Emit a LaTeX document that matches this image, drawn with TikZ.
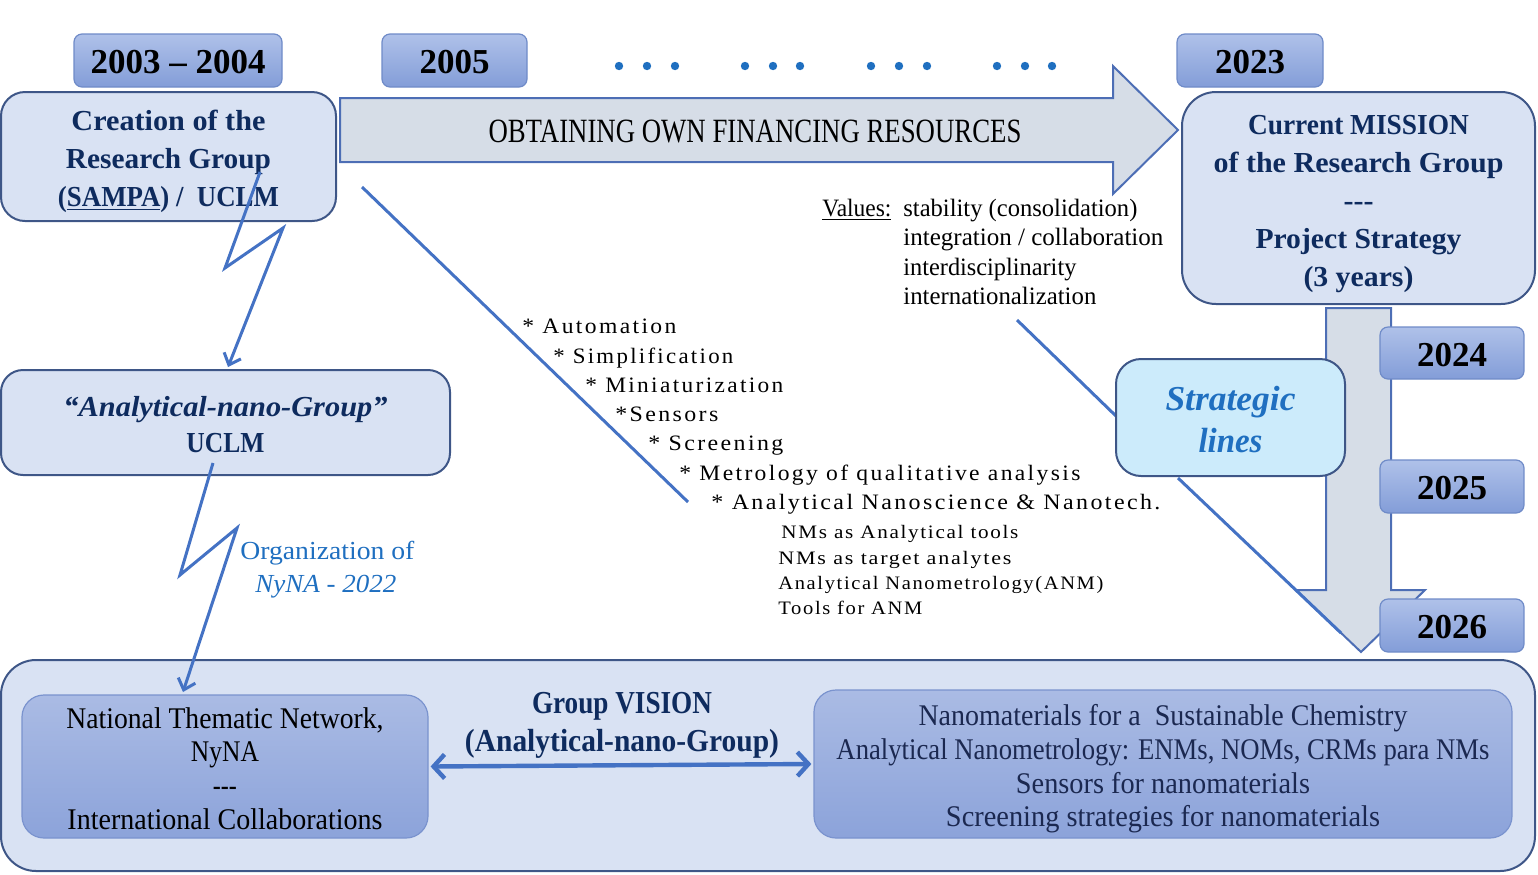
\documentclass[tikz,border=0pt]{standalone}
\usepackage{fontspec}
\setmainfont{Liberation Serif}
\usepackage{graphicx}
\usetikzlibrary{arrows.meta}
\newlength\pxu \setlength\pxu{0.5pt}
\newcommand\fw[2]{\resizebox{#1\pxu}{\height}{#2}}
\definecolor{tnavy}{HTML}{0E2B5E}
\definecolor{vnavy}{HTML}{1B2850}
\definecolor{ybd}{HTML}{6F8BC8}
\definecolor{yt}{HTML}{AFC1E9}
\definecolor{yb}{HTML}{839DD8}
\definecolor{lbf}{HTML}{D9E2F3}
\definecolor{lbd}{HTML}{3E5687}
\definecolor{sbf}{HTML}{CCEBFB}
\definecolor{ibd}{HTML}{7A93CE}
\definecolor{it}{HTML}{AABBE4}
\definecolor{ib}{HTML}{8CA3DA}
\definecolor{af}{HTML}{D6DDE7}
\definecolor{abd}{HTML}{4D6EB5}
\definecolor{lc}{HTML}{4472C4}
\definecolor{dotc}{HTML}{1F6FC0}
\begin{document}
\begin{tikzpicture}[x=0.5pt,y=-0.5pt,
  yearbox/.style={rounded corners=4pt, draw=ybd, line width=0.6pt, top color=yt, bottom color=yb,
    minimum height=26.5pt, inner sep=0pt, text height=13.4pt, text depth=0pt,
    font=\fontsize{17.5}{20}\selectfont\bfseries, text=black},
  lbox/.style={draw=lbd, fill=lbf, line width=1pt, inner sep=0pt},
  txt/.style={inner sep=0pt, align=center},
  bbold/.style={txt, text=tnavy, font=\fontsize{14.5}{19}\selectfont\bfseries},
  ibox/.style={draw=ibd, line width=0.6pt, top color=it, bottom color=ib, rounded corners=11pt, inner sep=0pt},
  itxt/.style={txt, font=\fontsize{15}{16.85}\selectfont},
  arrowshape/.style={draw=abd, fill=af, line width=1pt},
  conn/.style={draw=lc, line width=1.5pt},
  zig/.style={conn, -{Straight Barb[length=5pt,width=9pt]}},
  dbl/.style={draw=lc, line width=2.2pt, {Straight Barb[length=5.5pt,width=12pt]}-{Straight Barb[length=5.5pt,width=12pt]}},
  lst/.style={font=\fontsize{11}{13}\selectfont\addfontfeature{LetterSpace=10}, anchor=base west, inner sep=0pt},
  sublst/.style={font=\fontsize{9.5}{11}\selectfont\addfontfeature{LetterSpace=8}, anchor=base west, inner sep=0pt},
  val/.style={font=\fontsize{12.5}{14}\selectfont, anchor=base west, inner sep=0pt}
]
\useasboundingbox (0,0) rectangle (1538,874);

% bottom container
\node[lbox, rounded corners=17.5pt, minimum width=767pt, minimum height=105.5pt] (bottom) at (768,765.5) {};

% big right arrow
\draw[arrowshape] (340,98) -- (1113,98) -- (1113,66) -- (1178,130) -- (1113,194) -- (1113,162) -- (340,162) -- cycle;
\node[inner sep=0pt, font=\fontsize{17}{20}\selectfont] (obt) at (755,131) {\fw{533}{OBTAINING OWN FINANCING RESOURCES}};

% down arrow
\draw[arrowshape] (1326,308) -- (1391,308) -- (1391,590) -- (1425,590) -- (1361,652) -- (1296,590) -- (1326,590) -- cycle;

% diagonal lines
\coordinate (d1a) at (362,187);
\coordinate (d1b) at (688,502);
\draw[conn] (d1a) -- (d1b);
\coordinate (d2a) at (1017,320);
\coordinate (d3b) at (1341,633);

% dots
\foreach \x in {619,647,675,745,773,800,871,899,927,997,1025,1052}
  \fill[dotc] (\x,66) circle (2.1pt);

% year boxes
\node[yearbox, minimum width=104pt] (y0304) at (178,60.5) {2003 -- 2004};
\node[yearbox, minimum width=72.5pt] (y05) at (454.5,60.5) {2005};
\node[yearbox, minimum width=73pt] (y23) at (1250,60.5) {2023};

% main boxes
\node[lbox, rounded corners=12pt, minimum width=167.5pt, minimum height=64.5pt] (creation) at (168.5,156.5) {};
\node[bbold] (creationT) at (168.5,161.5)
  {\fw{194}{Creation of the}\\ \fw{205}{Research Group}\\ \fw{221}{(\underline{SAMPA}) /\ \ UCLM}};
\node[lbox, rounded corners=17pt, minimum width=176.5pt, minimum height=106pt] (mission) at (1358.5,198) {};
\node[bbold] (missionT) at (1358.5,204)
  {\fw{221}{Current MISSION}\\ \fw{290}{of the Research Group}\\ \fw{30}{-{}-{}-}\\ \fw{206}{Project Strategy}\\ \fw{110}{(3 years)}};
\node[lbox, rounded corners=11pt, minimum width=224.5pt, minimum height=52.5pt] (anano) at (225.5,422.5) {};
\node[txt, text=tnavy, font=\fontsize{14.5}{18}\selectfont\bfseries] (ananoT) at (225.5,424.5)
  {\fw{324}{\itshape “Analytical-nano-Group”}\\ \fw{78}{UCLM}};

% strategic lines
\coordinate (d2b) at (1116,416);
\draw[conn] (d2a) -- (d2b);
\node[lbox, fill=sbf, rounded corners=12.5pt, minimum width=114.5pt, minimum height=58.5pt] (strat) at (1230.5,417.5) {};
\node[txt, text=dotc, font=\fontsize{17.5}{21}\selectfont\bfseries\itshape] (stratT) at (1230.5,419.5)
  {\fw{130}{Strategic}\\ \fw{64}{lines}};
\coordinate (d3a) at (1178,478);
\draw[conn] (d3a) -- (d3b);

% right year boxes
\node[yearbox, minimum width=72pt, minimum height=26pt] (y24) at (1452,353) {2024};
\node[yearbox, minimum width=72pt] (y25) at (1452,486.5) {2025};
\node[yearbox, minimum width=72pt] (y26) at (1452,625.5) {2026};

% values
\node[val] (vlab) at (822,216) {\fw{69}{\underline{Values:}}};
\node[val] (v1) at (903,216) {\fw{234}{stability (consolidation)}};
\node[val] (v2) at (903,245) {\fw{260}{integration / collaboration}};
\node[val] (v3) at (903,275) {\fw{173}{interdisciplinarity}};
\node[val] (v4) at (903,304) {\fw{193}{internationalization}};

% list
\node[lst] (l1) at (522,333) {\fw{154}{* Automation}};
\node[lst] (l2) at (553,363) {\fw{180}{* Simplification}};
\node[lst] (l3) at (585,392) {\fw{198}{* Miniaturization}};
\node[lst] (l4) at (615,421) {\fw{103}{*Sensors}};
\node[lst] (l5) at (648,450) {\fw{135}{* Screening}};
\node[lst] (l6) at (679,480) {\fw{401}{* Metrology of qualitative analysis}};
\node[lst] (l7) at (711,509) {\fw{449}{* Analytical Nanoscience \& Nanotech.}};
\node[sublst] (s1) at (781,538) {\fw{237}{NMs as Analytical tools}};
\node[sublst] (s2) at (778,564) {\fw{233}{NMs as target analytes}};
\node[sublst] (s3) at (778,589) {\fw{325}{Analytical Nanometrology(ANM)}};
\node[sublst] (s4) at (778,614) {\fw{144}{Tools for ANM}};

% lightning 1
\coordinate (z1a) at (260,172);
\coordinate (z1b) at (225,268);
\coordinate (z1c) at (283,228);
\coordinate (z1d) at (228,367);
\draw[zig] (z1a) -- (z1b) -- (z1c) -- (z1d);

% inner bottom boxes
\node[ibox, minimum width=203pt, minimum height=71.5pt] (nyna) at (225,766.5) {};
\node[itxt, text=black] (nynaT) at (225,768.5)
  {\fw{317}{National Thematic Network,}\\ \fw{68}{NyNA}\\ \fw{24}{-{}-{}-}\\ \fw{315}{International Collaborations}};
\node[ibox, minimum width=349pt, minimum height=74pt] (vis) at (1163,764) {};
\node[itxt, text=vnavy] (visT) at (1163,769)
  {\fw{489}{Nanomaterials for a\ \ Sustainable Chemistry}\\ \fw{653}{Analytical Nanometrology: ENMs, NOMs, CRMs para NMs}\\ \fw{294}{Sensors for nanomaterials}\\ \fw{434}{Screening strategies for nanomaterials}};

% lightning 2
\coordinate (z2a) at (213,463);
\coordinate (z2b) at (180,575);
\coordinate (z2c) at (237,528);
\coordinate (z2d) at (183,692);
\draw[zig] (z2a) -- (z2b) -- (z2c) -- (z2d);
\node[inner sep=0pt, anchor=base west, text=dotc, font=\fontsize{13}{15}\selectfont] (org1) at (240,559) {\fw{174}{Organization of}};
\node[inner sep=0pt, anchor=base west, text=dotc, font=\fontsize{13}{15}\selectfont\itshape] (org2) at (255,592) {\fw{141}{NyNA - 2022}};

% vision
\node[txt, text=tnavy, font=\fontsize{16}{19}\selectfont\bfseries] (vision) at (622,725)
  {\fw{180}{Group VISION}\\ \fw{314}{(Analytical-nano-Group)}};
\path (nyna.east) ++(2,0) coordinate (da);
\path (vis.west) ++(-2,0) coordinate (db);
\draw[dbl] (da) -- (db);
\end{tikzpicture}
\end{document}
